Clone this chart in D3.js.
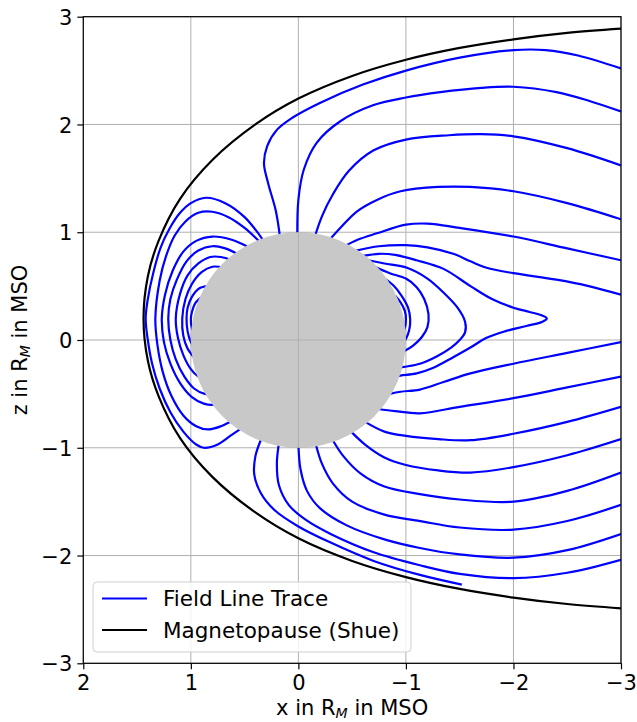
<!doctype html>
<html>
<head>
<meta charset="utf-8"/>
<title>Field Line Trace</title>
<script src="https://d3js.org/d3.v7.min.js"></script>
<style>
body{margin:0;background:#fff;}
text{font-family:"DejaVu Sans",sans-serif;}
</style>
</head>
<body>
<script type="text/javascript">
// axis ticks
var xTicks = [2, 1, 0, -1, -2, -3];
var zTicks = [3, 2, 1, 0, -1, -2, -3];

// planet (x, z, radius) in R_M
var planet = [0, 0, 1];

// Shue magnetopause, [x, z]
var magnetopause = [[-3,2.89],[-2.5,2.85],[-2,2.79],[-1.5,2.71],[-1,2.60],[-0.5,2.45],[0,2.24],[0.4,2.0],[0.8,1.67],[1.1,1.31],[1.3,0.92],[1.4,0.59],[1.44,0.2],
  [1.4,-0.19],[1.3,-0.52],[1.1,-0.91],[0.8,-1.27],[0.4,-1.6],[0,-1.84],[-0.5,-2.05],[-1,-2.2],[-1.5,-2.31],[-2,-2.39],[-2.5,-2.45],[-3,-2.49]];

// closed loops on the dayside
var dayLoops = [
  [[0.33,0.93],[0.5,1.14],[0.68,1.27],[0.86,1.32],[1.0,1.27],[1.1,1.18],[1.2,1.03],[1.28,0.86],[1.35,0.62],[1.4,0.38],[1.42,0.2],[1.4,0.0],[1.36,-0.22],[1.29,-0.45],[1.19,-0.67],[1.07,-0.85],[0.95,-0.97],[0.88,-1.0],[0.75,-0.97],[0.62,-0.88],[0.53,-0.82]],
  [[0.36,0.91],[0.5,1.04],[0.65,1.14],[0.8,1.19],[0.93,1.18],[1.05,1.1],[1.15,0.97],[1.23,0.78],[1.29,0.55],[1.33,0.2],[1.31,-0.05],[1.26,-0.3],[1.18,-0.52],[1.07,-0.7],[0.95,-0.8],[0.84,-0.83],[0.72,-0.8],[0.6,-0.74]],
  [[0.48,0.87],[0.62,0.93],[0.8,0.96],[0.95,0.92],[1.07,0.82],[1.17,0.64],[1.24,0.42],[1.27,0.2],[1.25,-0.02],[1.19,-0.22],[1.1,-0.4],[0.99,-0.53],[0.88,-0.59],[0.78,-0.6],[0.72,-0.58]],
  [[0.57,0.8],[0.68,0.85],[0.8,0.87],[0.93,0.83],[1.04,0.73],[1.13,0.56],[1.19,0.38],[1.21,0.2],[1.19,0.0],[1.14,-0.18],[1.06,-0.34],[0.97,-0.45],[0.87,-0.5],[0.82,-0.5]],
  [[0.62,0.74],[0.72,0.77],[0.82,0.77],[0.93,0.71],[1.03,0.6],[1.1,0.43],[1.14,0.2],[1.12,0.02],[1.07,-0.14],[1.0,-0.27],[0.93,-0.34],[0.88,-0.36]],
  [[0.69,0.67],[0.8,0.68],[0.9,0.63],[0.99,0.52],[1.05,0.38],[1.08,0.2],[1.07,0.04],[1.03,-0.08],[0.97,-0.16]],
  [[0.84,0.5],[0.92,0.48],[0.99,0.4],[1.03,0.3],[1.04,0.2],[1.03,0.08],[1.0,-0.02],[0.96,-0.08]],
  [[0.9,0.4],[0.96,0.34],[0.99,0.26],[1.0,0.19],[0.99,0.11],[0.96,0.05]]
];

// open lines, northern cap to the tail
var northLines = [
  [[0.17,0.95],[0.21,1.2],[0.28,1.45],[0.32,1.64],[0.29,1.8],[0.2,1.95],[0.06,2.06],[-0.2,2.2],[-0.6,2.37],[-1.0,2.5],[-1.5,2.62],[-2.0,2.69],[-2.3,2.69],[-2.6,2.64],[-3.0,2.52]],
  [[0.01,0.95],[0.0,1.3],[-0.05,1.58],[-0.17,1.83],[-0.39,2.03],[-0.7,2.18],[-1.0,2.25],[-1.32,2.3],[-1.7,2.34],[-2.0,2.35],[-2.4,2.3],[-2.7,2.22],[-3.0,2.12]],
  [[-0.15,0.95],[-0.22,1.15],[-0.32,1.35],[-0.47,1.57],[-0.7,1.76],[-1.0,1.86],[-1.4,1.9],[-1.7,1.91],[-2.0,1.89],[-2.5,1.78],[-3.0,1.62]],
  [[-0.29,0.93],[-0.4,1.05],[-0.54,1.19],[-0.73,1.3],[-0.95,1.38],[-1.3,1.42],[-1.6,1.42],[-2.0,1.38],[-2.5,1.27],[-3.0,1.12]],
  [[-0.43,0.87],[-0.55,0.93],[-0.73,0.99],[-1.0,1.07],[-1.2,1.08],[-1.5,1.04],[-2.0,0.96],[-2.5,0.85],[-3.0,0.74]],
  [[-0.54,0.83],[-0.75,0.87],[-1.0,0.88],[-1.2,0.86],[-1.44,0.8],[-1.6,0.73],[-1.75,0.67],[-2.0,0.62],[-2.4,0.56],[-2.7,0.5],[-3.0,0.42]]
];

// closed loops on the nightside
var nightLoops = [
  [[-0.6,0.78],[-0.75,0.8],[-0.9,0.79],[-1.1,0.74],[-1.35,0.66],[-1.6,0.5],[-1.8,0.38],[-2.0,0.3],[-2.15,0.26],[-2.26,0.23],[-2.31,0.2],[-2.27,0.17],[-2.12,0.13],[-1.92,0.08],[-1.75,0.02],[-1.6,-0.07],[-1.44,-0.16],[-1.25,-0.26],[-1.1,-0.31],[-0.95,-0.33],[-0.9,-0.34]],
  [[-0.65,0.74],[-0.8,0.71],[-1.01,0.67],[-1.2,0.57],[-1.35,0.44],[-1.48,0.3],[-1.55,0.17],[-1.55,0.07],[-1.5,0.0],[-1.42,-0.07],[-1.29,-0.15],[-1.13,-0.22],[-0.98,-0.25],[-0.93,-0.26]],
  [[-0.71,0.68],[-0.85,0.62],[-1.0,0.57],[-1.1,0.49],[-1.17,0.38],[-1.21,0.24],[-1.2,0.12],[-1.15,0.03],[-1.07,-0.05],[-0.99,-0.1],[-0.94,-0.12]],
  [[-0.8,0.57],[-0.88,0.51],[-0.96,0.41],[-1.02,0.3],[-1.04,0.19],[-1.03,0.09],[-1.0,0.01],[-0.96,-0.04]],
  [[-0.9,0.41],[-0.95,0.35],[-0.99,0.27],[-1.0,0.19],[-0.99,0.11],[-0.96,0.05]]
];

// open lines, southern cap to the tail
var southLines = [
  [[-0.85,-0.5],[-0.95,-0.48],[-1.13,-0.46],[-1.35,-0.39],[-1.6,-0.31],[-2.0,-0.22],[-2.5,-0.12],[-3.0,-0.02]],
  [[-0.74,-0.64],[-0.9,-0.66],[-1.13,-0.68],[-1.5,-0.62],[-2.0,-0.54],[-2.5,-0.44],[-3.0,-0.34]],
  [[-0.62,-0.76],[-0.8,-0.85],[-1.0,-0.89],[-1.3,-0.92],[-1.6,-0.93],[-2.0,-0.87],[-2.5,-0.76],[-3.0,-0.62]],
  [[-0.49,-0.85],[-0.62,-0.97],[-0.8,-1.09],[-1.0,-1.16],[-1.3,-1.21],[-1.6,-1.23],[-2.0,-1.18],[-2.5,-1.07],[-3.0,-0.92]],
  [[-0.32,-0.93],[-0.42,-1.08],[-0.58,-1.24],[-0.8,-1.36],[-1.13,-1.43],[-1.5,-1.48],[-2.0,-1.5],[-2.5,-1.4],[-3.0,-1.23]],
  [[-0.16,-0.96],[-0.22,-1.15],[-0.32,-1.33],[-0.5,-1.5],[-0.8,-1.62],[-1.13,-1.68],[-1.5,-1.74],[-2.0,-1.76],[-2.5,-1.68],[-3.0,-1.53]],
  [[0.0,-0.96],[-0.02,-1.2],[-0.08,-1.4],[-0.2,-1.56],[-0.45,-1.72],[-0.8,-1.85],[-1.13,-1.93],[-1.5,-1.99],[-2.0,-2.02],[-2.5,-1.95],[-3.0,-1.8]],
  [[0.18,-0.95],[0.2,-1.15],[0.18,-1.35],[0.09,-1.53],[-0.07,-1.67],[-0.3,-1.8],[-0.7,-1.97],[-1.13,-2.09],[-1.5,-2.17],[-2.0,-2.21],[-2.5,-2.16],[-3.0,-2.04]],
  [[0.35,-0.93],[0.4,-1.08],[0.41,-1.25],[0.35,-1.42],[0.22,-1.58],[0.0,-1.73],[-0.3,-1.88],[-0.7,-2.05],[-1.13,-2.18],[-1.52,-2.27]]
];

var legendLabels = ["Field Line Trace", "Magnetopause (Shue)"];
var legendColors = ["#0000ff", "#000000"];

//---------------------------------------------------------------
var W = 637, H = 722;
var mLeft = 83.3, mRight = 621, mTop = 16.7, mBottom = 663.3;

var svg = d3.select("body").append("svg")
    .attr("width", W)
    .attr("height", H);

svg.append("rect").attr("width", W).attr("height", H).attr("fill", "#fff");

var x = d3.scaleLinear().domain([2, -3]).range([mLeft, mRight]);
var y = d3.scaleLinear().domain([3, -3]).range([mTop, mBottom]);

svg.append("clipPath").attr("id", "plotclip")
  .append("rect")
    .attr("x", mLeft).attr("y", mTop)
    .attr("width", mRight - mLeft).attr("height", mBottom - mTop);

svg.append("clipPath").attr("id", "planetclip")
  .append("ellipse")
    .attr("cx", x(planet[0])).attr("cy", y(planet[1]))
    .attr("rx", Math.abs(x(planet[2]) - x(0))).attr("ry", Math.abs(y(planet[2]) - y(0)));

function drawGrid(g)
{
  g.selectAll(".gx").data(xTicks).enter().append("line")
    .attr("x1", function(d){return x(d)}).attr("x2", function(d){return x(d)})
    .attr("y1", mTop).attr("y2", mBottom)
    .attr("stroke", "#b0b0b0").attr("stroke-width", 1);
  g.selectAll(".gy").data(zTicks).enter().append("line")
    .attr("x1", mLeft).attr("x2", mRight)
    .attr("y1", function(d){return y(d)}).attr("y2", function(d){return y(d)})
    .attr("stroke", "#b0b0b0").attr("stroke-width", 1);
}

drawGrid(svg.append("g"));

var line = d3.line()
  .x(function(d){return x(d[0])})
  .y(function(d){return y(d[1])})
  .curve(d3.curveCatmullRom.alpha(0.5));

var plot = svg.append("g").attr("clip-path", "url(#plotclip)");

var allLines = dayLoops.concat(northLines, nightLoops, southLines);

plot.selectAll(".field")
  .data(allLines)
  .enter()
  .append("path")
    .attr("class", "field")
    .attr("d", line)
    .attr("fill", "none")
    .attr("stroke", legendColors[0])
    .attr("stroke-width", 2.2);

plot.append("path")
  .attr("d", line(magnetopause))
  .attr("fill", "none")
  .attr("stroke", legendColors[1])
  .attr("stroke-width", 2.2);

plot.append("ellipse")
  .attr("cx", x(planet[0])).attr("cy", y(planet[1]))
  .attr("rx", Math.abs(x(planet[2]) - x(0))).attr("ry", Math.abs(y(planet[2]) - y(0)))
  .attr("fill", "#c8c8c8");

// grid shows through the planet
drawGrid(svg.append("g").attr("clip-path", "url(#planetclip)"));

// axes
var fmt = d3.format("d");
var xAxis = svg.append("g")
  .attr("transform", "translate(0," + mBottom + ")")
  .call(d3.axisBottom(x).tickValues(xTicks).tickFormat(fmt).tickSize(6).tickPadding(6));
var yAxis = svg.append("g")
  .attr("transform", "translate(" + mLeft + ",0)")
  .call(d3.axisLeft(y).tickValues(zTicks).tickFormat(fmt).tickSize(6).tickPadding(5));

[xAxis, yAxis].forEach(function(a){
  a.select(".domain").remove();
  a.selectAll("line").attr("stroke", "#000").attr("stroke-width", 1.2);
  a.selectAll("text").attr("font-size", 21).attr("fill", "#000")
    .style("font-family", "DejaVu Sans");
});
yAxis.selectAll("text").attr("dy", "0.36em");

svg.append("rect")
  .attr("x", mLeft).attr("y", mTop)
  .attr("width", mRight - mLeft).attr("height", mBottom - mTop)
  .attr("fill", "none").attr("stroke", "#000").attr("stroke-width", 1.2);

// axis labels
var xl = svg.append("text")
  .attr("x", (mLeft + mRight) / 2).attr("y", 715)
  .attr("text-anchor", "middle").attr("font-size", 21);
xl.append("tspan").text("x in R");
xl.append("tspan").attr("font-size", 14).attr("font-style", "italic").attr("dy", 3).text("M");
xl.append("tspan").attr("dy", -3).text(" in MSO");

var yl = svg.append("text")
  .attr("transform", "translate(27," + (mTop + mBottom) / 2 + ") rotate(-90)")
  .attr("text-anchor", "middle").attr("font-size", 21);
yl.append("tspan").text("z in R");
yl.append("tspan").attr("font-size", 14).attr("font-style", "italic").attr("dy", 3).text("M");
yl.append("tspan").attr("dy", -3).text(" in MSO");

// legend
var leg = svg.append("g");
leg.append("rect")
  .attr("x", 93).attr("y", 582).attr("width", 318).attr("height", 70)
  .attr("rx", 4).attr("fill", "#fff").attr("fill-opacity", 0.8)
  .attr("stroke", "#d0d0d0").attr("stroke-width", 1);

leg.selectAll(".ll").data(legendLabels).enter().append("line")
  .attr("x1", 102).attr("x2", 147)
  .attr("y1", function(d,i){return 598.5 + i*31.5})
  .attr("y2", function(d,i){return 598.5 + i*31.5})
  .attr("stroke", function(d,i){return legendColors[i]})
  .attr("stroke-width", 2.2);

leg.selectAll(".lt").data(legendLabels).enter().append("text")
  .attr("x", 163)
  .attr("y", function(d,i){return 606 + i*31.5})
  .attr("font-size", 21.5)
  .text(function(d){return d});
</script>
</body>
</html>
